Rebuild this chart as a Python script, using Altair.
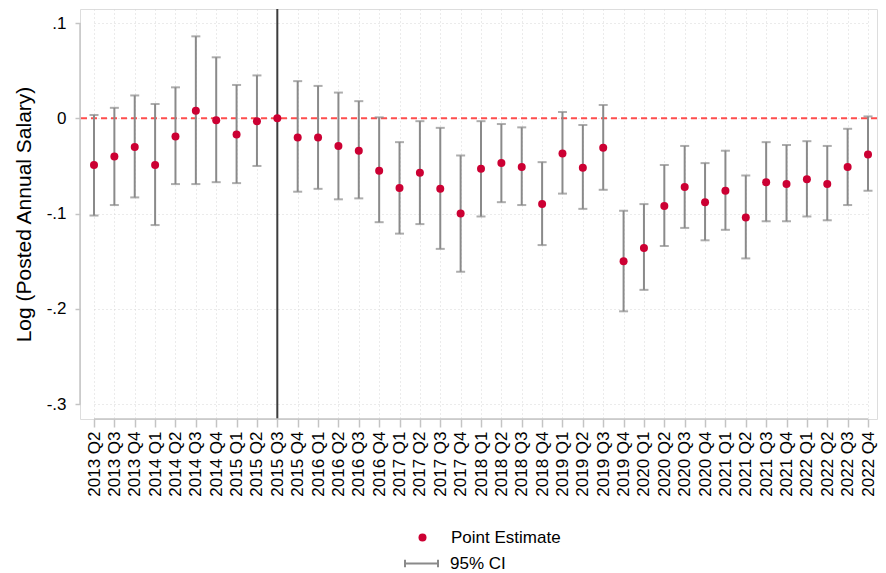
import altair as alt
import pandas as pd

quarters = [
    "2013 Q2", "2013 Q3", "2013 Q4",
    "2014 Q1", "2014 Q2", "2014 Q3", "2014 Q4",
    "2015 Q1", "2015 Q2", "2015 Q3", "2015 Q4",
    "2016 Q1", "2016 Q2", "2016 Q3", "2016 Q4",
    "2017 Q1", "2017 Q2", "2017 Q3", "2017 Q4",
    "2018 Q1", "2018 Q2", "2018 Q3", "2018 Q4",
    "2019 Q1", "2019 Q2", "2019 Q3", "2019 Q4",
    "2020 Q1", "2020 Q2", "2020 Q3", "2020 Q4",
    "2021 Q1", "2021 Q2", "2021 Q3", "2021 Q4",
    "2022 Q1", "2022 Q2", "2022 Q3", "2022 Q4",
]
estimate = [
    -0.049, -0.040, -0.030,
    -0.049, -0.019, 0.008, -0.002,
    -0.017, -0.003, 0.000, -0.020,
    -0.020, -0.029, -0.034, -0.055,
    -0.073, -0.057, -0.074, -0.100,
    -0.053, -0.047, -0.051, -0.090,
    -0.037, -0.052, -0.031, -0.150,
    -0.136, -0.092, -0.072, -0.088,
    -0.076, -0.104, -0.067, -0.069,
    -0.064, -0.069, -0.051, -0.038,
]
ci_high = [
    0.0035, 0.011, 0.024,
    0.015, 0.0325, 0.086, 0.064,
    0.035, 0.045, None, 0.039,
    0.034, 0.027, 0.018, 0.001,
    -0.025, -0.003, -0.010, -0.039,
    -0.003, -0.006, -0.0095, -0.046,
    0.0066, -0.007, 0.014, -0.097,
    -0.090, -0.049, -0.029, -0.047,
    -0.034, -0.060, -0.025, -0.028,
    -0.024, -0.029, -0.011, 0.002,
]
ci_low = [
    -0.102, -0.091, -0.083,
    -0.112, -0.069, -0.069, -0.067,
    -0.068, -0.050, None, -0.077,
    -0.074, -0.085, -0.084, -0.109,
    -0.121, -0.111, -0.137, -0.161,
    -0.103, -0.088, -0.091, -0.133,
    -0.079, -0.095, -0.075, -0.2025,
    -0.180, -0.134, -0.115, -0.128,
    -0.117, -0.147, -0.108, -0.108,
    -0.103, -0.107, -0.091, -0.076,
]
y_ticks = [-0.3, -0.2, -0.1, 0.0, 0.1]
reference_quarter = ["2015 Q3"]
zero_line = [0.0]

RED = "#cc0033"
GRAY = "#8a8a8a"
AXIS_GRAY = "#c4c4c4"
FONT = "Liberation Sans"
Y_TITLE = "Log (Posted Annual Salary)"

df = pd.DataFrame({"q": quarters, "est": estimate, "lo": ci_low, "hi": ci_high})
df["pe"] = "Point Estimate"
df["ci"] = "95% CI"

W, H = 797, 410
Y_MIN, Y_MAX = -0.3155, 0.1147

xscale = alt.Scale(type="point", domain=quarters, range=[14, 788], padding=0)
yscale = alt.Scale(domain=[Y_MIN, Y_MAX], nice=False, zero=False)

xaxis = alt.Axis(
    title=None, labelAngle=270, labelAlign="right", labelBaseline="middle",
    labelFontSize=17, labelFont=FONT, labelColor="black", labelPadding=4,
    tickSize=8, tickColor=AXIS_GRAY, tickWidth=1.5, domain=False,
    grid=True, gridColor="#d6d6d6", gridDash=[1, 3], gridWidth=1,
)
yaxis = alt.Axis(
    values=y_ticks, title=Y_TITLE, titleFont=FONT, titleFontSize=21,
    titleFontWeight="normal", titleColor="black", titlePadding=12,
    labelFont=FONT, labelFontSize=17, labelColor="black", labelPadding=9,
    labelExpr="datum.value == 0 ? '0' : replace(replace(format(datum.value, '.1f'), '0.', '.'), '\u2212', '-')",
    tickSize=5, tickColor=AXIS_GRAY, tickWidth=1.5, domain=False,
    grid=True, gridColor="#d6d6d6", gridDash=[1, 3], gridWidth=1,
)


def X(field):
    return alt.X(field, scale=xscale, axis=xaxis, title=None)


def Y(field):
    return alt.Y(field, scale=yscale, axis=yaxis, title=Y_TITLE)


ci_df = df.dropna(subset=["lo", "hi"])

vline = alt.Chart(pd.DataFrame({"q": reference_quarter})).mark_rule(
    color="#3c3c3c", strokeWidth=2
).encode(x=X("q:N"))

yaxis_line = alt.Chart(pd.DataFrame({"y0": [y_ticks[0]], "y1": [y_ticks[-1]]})).mark_rule(
    color=AXIS_GRAY, strokeWidth=1.5
).encode(x=alt.value(0), y=Y("y0:Q"), y2=alt.Y2("y1:Q", title=None))

xaxis_line = alt.Chart(
    pd.DataFrame({"q": [quarters[0], quarters[-1]], "y": [Y_MIN, Y_MIN]})
).mark_line(color=AXIS_GRAY, strokeWidth=1.5).encode(x=X("q:N"), y=Y("y:Q"))

zline = alt.Chart(pd.DataFrame({"y": zero_line})).mark_rule(
    color="#ff4d4d", strokeWidth=2, strokeDash=[6, 4]
).encode(y=Y("y:Q"))

bars = alt.Chart(ci_df).mark_rule(strokeWidth=2).encode(
    x=X("q:N"), y=Y("lo:Q"), y2=alt.Y2("hi:Q", title=None),
    stroke=alt.Stroke(
        "ci:N",
        scale=alt.Scale(domain=["95% CI"], range=[GRAY]),
        legend=alt.Legend(
            title=None, orient="none", legendX=324, legendY=537,
            symbolType="M-1,0H1M-1,-0.22V0.22M1,-0.22V0.22",
            symbolSize=1089, symbolStrokeWidth=2, labelOffset=11,
            labelFont=FONT, labelFontSize=17, labelColor="black", padding=0,
        ),
    ),
)

caps = alt.Chart(ci_df).transform_fold(["lo", "hi"], as_=["end", "val"]).mark_tick(
    size=9, thickness=2, color=GRAY
).encode(x=X("q:N"), y=Y("val:Q"))

points = alt.Chart(df).mark_circle(size=64, opacity=1).encode(
    x=X("q:N"), y=Y("est:Q"),
    color=alt.Color(
        "pe:N",
        scale=alt.Scale(domain=["Point Estimate"], range=[RED]),
        legend=alt.Legend(
            title=None, orient="none", legendX=334, legendY=520,
            symbolType="circle", symbolSize=64, symbolStrokeWidth=0,
            labelOffset=20, labelFont=FONT, labelFontSize=17,
            labelColor="black", padding=0,
        ),
    ),
)

chart = alt.layer(
    vline, yaxis_line, xaxis_line, zline, bars, caps, points
).properties(
    width=W, height=H,
    padding={"left": 5, "top": 0, "right": 0, "bottom": 0},
).configure_view(stroke=None).configure(background="white")

chart.save("out.html", embed_options={"renderer": "svg", "actions": False})
